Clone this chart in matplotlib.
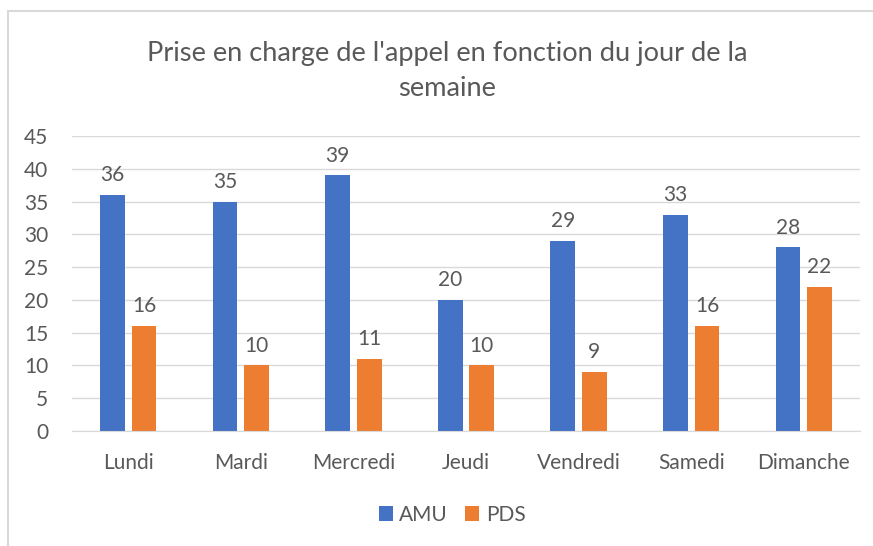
import matplotlib.pyplot as plt
import numpy as np
from matplotlib.patches import Rectangle

plt.rcParams['font.family'] = ['Lato', 'DejaVu Sans']

jours = ['Lundi', 'Mardi', 'Mercredi', 'Jeudi', 'Vendredi', 'Samedi', 'Dimanche']
amu = [36, 35, 39, 20, 29, 33, 28]
pds = [16, 10, 11, 10, 9, 16, 22]

bleu = '#4472C4'
orange = '#ED7D31'
gris = '#595959'

fig = plt.figure(figsize=(8.73, 5.46), dpi=100)
# cadre du graphique (coupé à droite et en bas)
fig.patches.append(Rectangle((8 / 873, -0.1), 1.2, 1 - 11 / 546 + 0.1, transform=fig.transFigure,
                             fill=False, edgecolor='#D9D9D9', linewidth=1.5))

ax = fig.add_axes([72 / 873, 1 - 431 / 546, (860 - 72) / 873, (431 - 136) / 546])
x = np.arange(len(jours))
w = 0.22
b1 = ax.bar(x - 0.03 - w / 2, amu, w, color=bleu, label='AMU')
b2 = ax.bar(x + 0.03 + w / 2, pds, w, color=orange, label='PDS')
for bars in (b1, b2):
    ax.bar_label(bars, padding=7, fontsize=15, color=gris)

ax.set_xlim(-0.5, len(jours) - 0.5)
ax.set_ylim(0, 45)
ax.set_yticks(range(0, 46, 5))
ax.set_xticks(x)
ax.set_xticklabels(jours)
ax.tick_params(axis='both', length=0, labelsize=15, labelcolor=gris)
ax.tick_params(axis='x', pad=16)
ax.tick_params(axis='y', pad=17)
for lbl in ax.get_yticklabels():
    lbl.set_horizontalalignment('right')
ax.grid(axis='y', color='#D9D9D9', linewidth=1)
ax.set_axisbelow(True)
for s in ['top', 'right', 'left']:
    ax.spines[s].set_visible(False)
ax.spines['bottom'].set_color('#D9D9D9')

fig.text(447 / 873, 1 - 71 / 546, "Prise en charge de l'appel en fonction du jour de la\nsemaine",
         ha='center', va='center', fontsize=19.6, color=gris, linespacing=1.45)
fig.legend(loc='center', bbox_to_anchor=(452 / 873, 1 - 515 / 546), ncol=2, frameon=False,
           fontsize=15, labelcolor=gris, handlelength=0.7, handleheight=0.7,
           handletextpad=0.3, columnspacing=0.8)

fig.savefig('out.png', dpi=100)
